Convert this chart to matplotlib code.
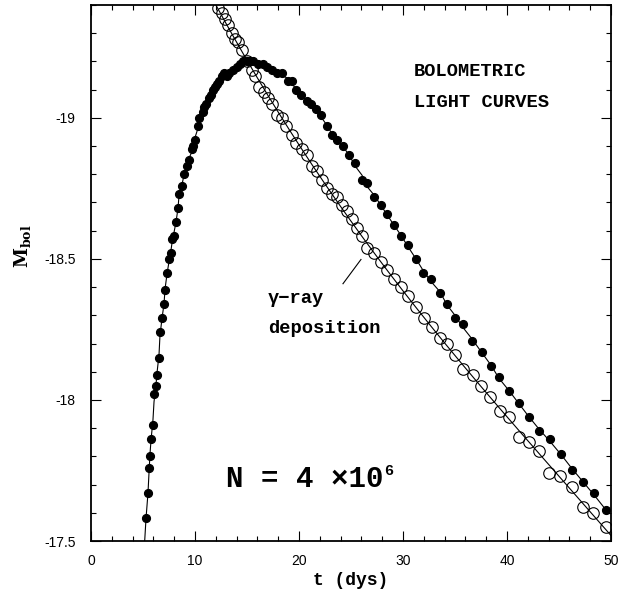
import numpy as np
import matplotlib.pyplot as plt
from matplotlib.ticker import MultipleLocator

# bolometric light curve (filled dots)
bol_t = [5.29, 5.48, 5.58, 5.67, 5.77, 5.96, 6.06, 6.25, 6.35, 6.54, 6.63, 6.83, 7.02, 7.12, 7.31,
         7.50, 7.69, 7.79, 7.98, 8.17, 8.37, 8.46, 8.75, 8.94, 9.23, 9.42, 9.71, 9.81, 10.00, 10.29,
         10.38, 10.77, 10.87, 11.06, 11.35, 11.54, 11.73, 11.92, 12.12, 12.31, 12.60, 12.79, 13.08,
         13.27, 13.65, 14.04, 14.33, 14.60, 15.00, 15.30, 15.60, 16.06, 16.50, 16.90, 17.40, 17.90,
         18.37, 18.94, 19.33, 19.71, 20.19, 20.77, 21.15, 21.63, 22.12, 22.69, 23.17, 23.65, 24.23,
         24.81, 25.38, 26.06, 26.54, 27.21, 27.88, 28.46, 29.13, 29.81, 30.48, 31.25, 31.92, 32.69,
         33.56, 34.23, 35.00, 35.77, 36.63, 37.60, 38.46, 39.23, 40.19, 41.15, 42.12, 43.08, 44.13,
         45.19, 46.25, 47.31, 48.37, 49.52]
bol_m = [-17.58, -17.67, -17.76, -17.80, -17.86, -17.91, -18.02, -18.05, -18.09, -18.15, -18.24,
         -18.29, -18.34, -18.39, -18.45, -18.50, -18.52, -18.57, -18.58, -18.63, -18.68, -18.73,
         -18.76, -18.80, -18.83, -18.85, -18.89, -18.90, -18.92, -18.97, -19.00, -19.02, -19.04,
         -19.05, -19.07, -19.08, -19.10, -19.11, -19.12, -19.13, -19.15, -19.16, -19.15, -19.16,
         -19.17, -19.18, -19.19, -19.20, -19.20, -19.20, -19.20, -19.19, -19.19, -19.18, -19.17,
         -19.16, -19.16, -19.13, -19.13, -19.10, -19.08, -19.06, -19.05, -19.03, -19.01, -18.97,
         -18.94, -18.92, -18.90, -18.87, -18.84, -18.78, -18.77, -18.72, -18.69, -18.66, -18.62,
         -18.58, -18.55, -18.50, -18.45, -18.43, -18.38, -18.34, -18.29, -18.27, -18.21, -18.17,
         -18.12, -18.08, -18.03, -17.99, -17.94, -17.89, -17.86, -17.81, -17.75, -17.71, -17.67,
         -17.61]

# gamma-ray deposition (open circles)
gam_t = [12.21, 12.60, 12.88, 13.17, 13.56, 13.85, 14.13, 14.52, 15.00, 15.48, 15.77, 16.15, 16.63,
         17.02, 17.40, 17.88, 18.37, 18.75, 19.33, 19.71, 20.29, 20.77, 21.25, 21.73, 22.21, 22.69,
         23.17, 23.65, 24.13, 24.62, 25.10, 25.58, 26.06, 26.54, 27.21, 27.88, 28.46, 29.13, 29.81,
         30.48, 31.25, 32.02, 32.79, 33.56, 34.23, 35.00, 35.77, 36.73, 37.50, 38.37, 39.33, 40.19,
         41.15, 42.12, 43.08, 44.04, 45.10, 46.25, 47.31, 48.27, 49.52]
gam_m = [-19.39, -19.37, -19.35, -19.33, -19.30, -19.28, -19.27, -19.24, -19.20, -19.17, -19.15,
         -19.11, -19.09, -19.07, -19.05, -19.01, -19.00, -18.97, -18.94, -18.91, -18.89, -18.87,
         -18.83, -18.81, -18.78, -18.75, -18.73, -18.72, -18.69, -18.67, -18.64, -18.61, -18.58,
         -18.54, -18.52, -18.49, -18.46, -18.43, -18.40, -18.37, -18.33, -18.29, -18.26, -18.22,
         -18.20, -18.16, -18.11, -18.09, -18.05, -18.01, -17.96, -17.94, -17.87, -17.85, -17.82,
         -17.74, -17.73, -17.69, -17.62, -17.60, -17.55]

bol_t = np.array(bol_t); bol_m = np.array(bol_m)
gam_t = np.array(gam_t); gam_m = np.array(gam_m)

mono = ['Liberation Mono', 'DejaVu Sans Mono']
plt.rcParams['font.family'] = ['Liberation Sans', 'DejaVu Sans']
plt.rcParams['mathtext.fontset'] = 'dejavuserif'

fig = plt.figure(figsize=(6.31, 5.94), dpi=100)
ax = fig.add_axes([0.1442, 0.0892, 0.8241, 0.9024])

# smooth lines through the points
sm = bol_m.copy()
sm[1:-1] = (bol_m[:-2] + bol_m[1:-1] + bol_m[2:]) / 3.0
k = np.polyfit(bol_t[:3], bol_m[:3], 1)
lt = np.concatenate([[(-17.45 - k[1]) / k[0]], bol_t])
lm = np.concatenate([[-17.45], sm])
ax.plot(lt, lm, color='black', lw=0.8, zorder=2)

p = np.polyfit(gam_t, gam_m, 3)
tt = np.linspace(11.0, 50.5, 300)
ax.plot(tt, np.polyval(p, tt), color='black', lw=0.8, zorder=2)

ax.plot(bol_t, bol_m, 'o', ms=5.6, color='black', mec='black', zorder=3)
ax.plot(gam_t, gam_m, 'o', ms=8.3, mfc='none', mec='black', mew=0.8, zorder=3)

ax.set_xlim(0, 50)
ax.set_ylim(-17.5, -19.4)
ax.xaxis.set_major_locator(MultipleLocator(10))
ax.xaxis.set_minor_locator(MultipleLocator(2))
ax.yaxis.set_minor_locator(MultipleLocator(0.1))
ax.set_yticks([-17.5, -18, -18.5, -19])
ax.set_yticklabels(['-17.5', '-18', '-18.5', '-19'])
ax.tick_params(which='both', direction='in', top=True, right=True, width=0.8,
               labelsize=10)
ax.tick_params(axis='x', which='major', length=7, pad=9)
ax.tick_params(axis='y', which='major', length=7, pad=11)
ax.tick_params(which='minor', length=3.5)
for s in ax.spines.values():
    s.set_linewidth(1.3)

ax.set_xlabel('t (dys)', family=mono, fontweight='bold', fontsize=13, labelpad=3)
ax.set_ylabel(r'$\mathbf{M_{bol}}$', fontsize=13)
ax.yaxis.set_label_coords(-0.112, 0.55)

ax.text(31.06, -19.149, 'BOLOMETRIC', family=mono, fontweight='bold', fontsize=13.5,
        va='baseline')
ax.text(31.06, -19.039, 'LIGHT CURVES', family=mono, fontweight='bold', fontsize=13.5,
        va='baseline')
ax.text(17.0, -18.344, 'γ\u2212ray', family=mono, fontweight='bold', fontsize=13.5,
        va='baseline')
ax.text(17.0, -18.237, 'deposition', family=mono, fontweight='bold', fontsize=13.5,
        va='baseline')
ax.plot([24.23, 25.96], [-18.412, -18.498], color='black', lw=0.8)

ax.text(13.0, -17.69, 'N = 4 \u00d710', family=mono, fontweight='bold', fontsize=21,
        va='baseline')
ax.text(28.2, -17.735, '6', family=mono, fontweight='bold', fontsize=11, va='baseline')

plt.savefig('out.png', dpi=100)
